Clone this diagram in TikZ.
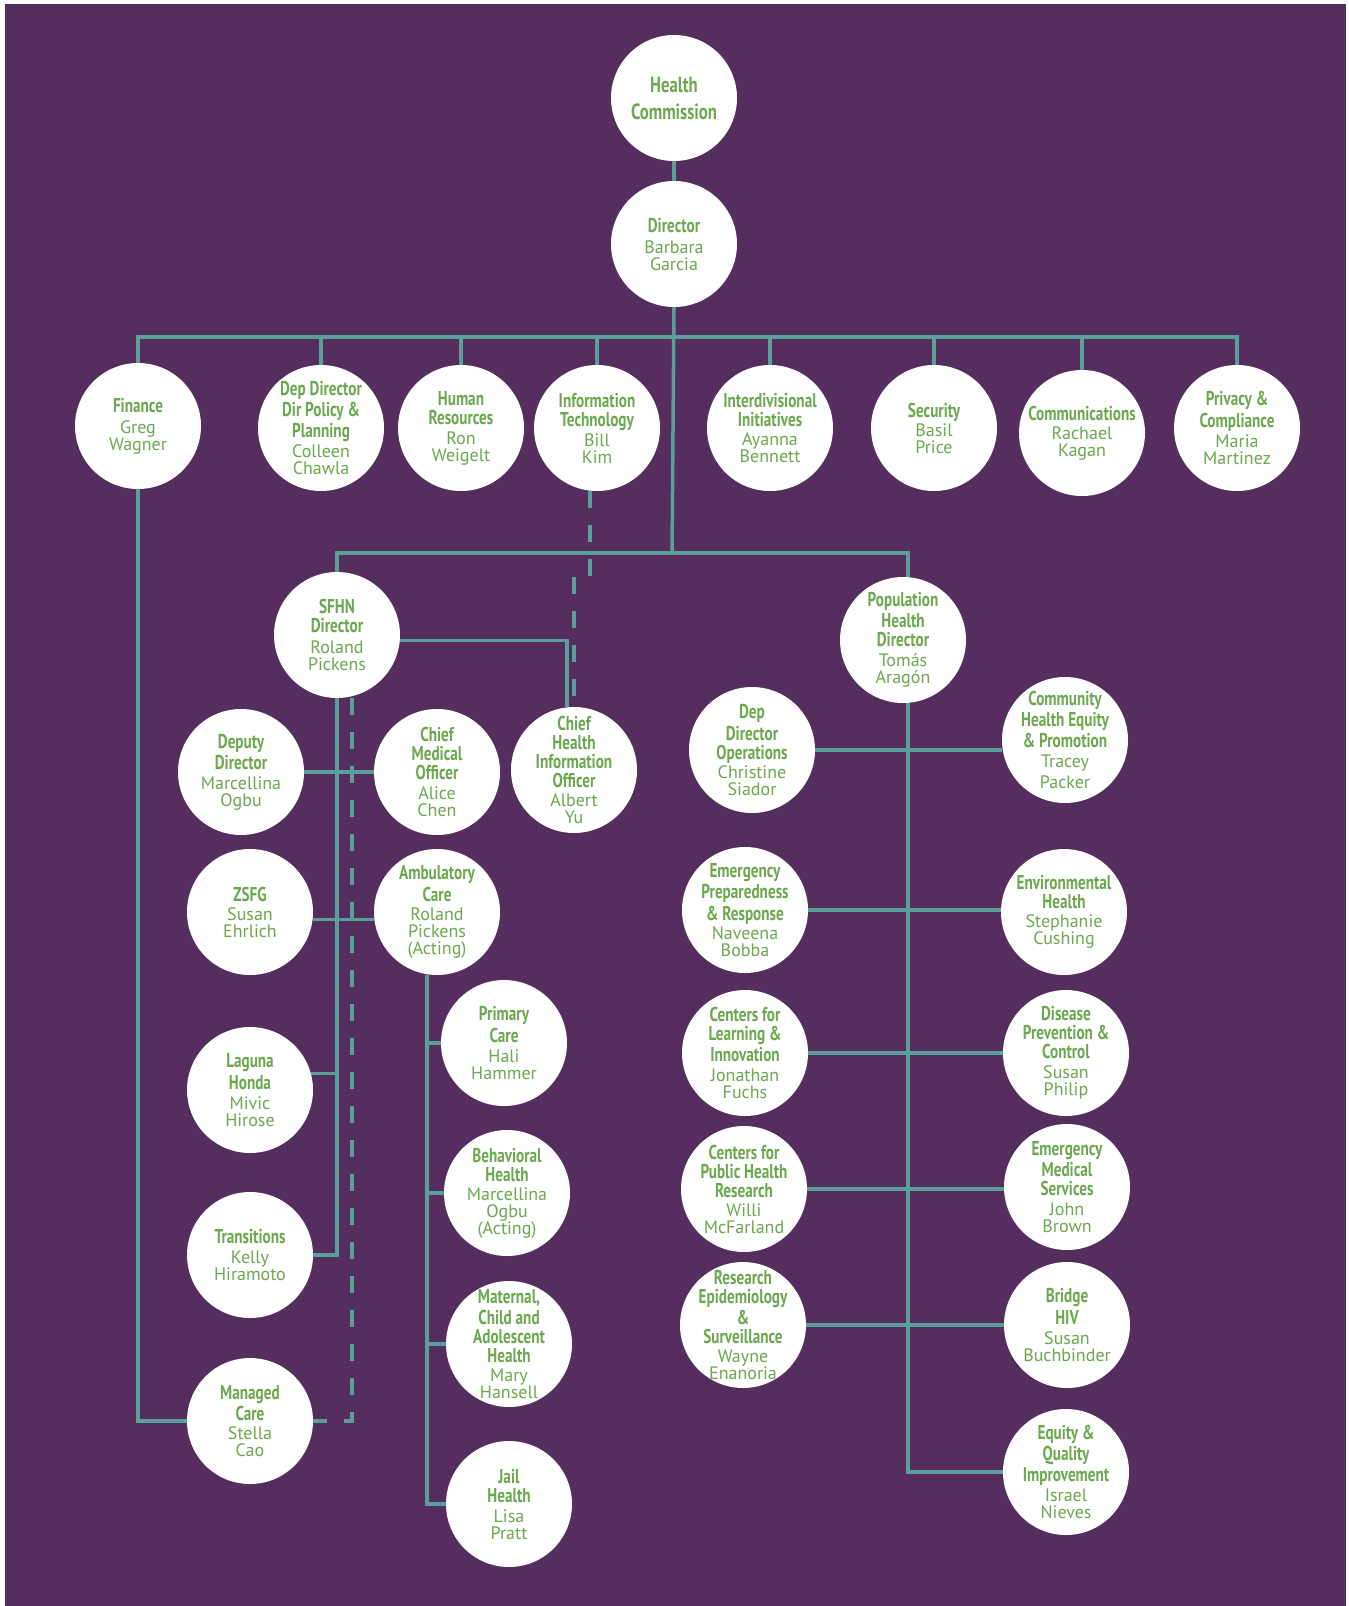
\documentclass[tikz,border=0pt]{standalone}
\usepackage{fontspec}
\setmainfont{PT Sans}
\newfontfamily\tfont{PT Sans}[FakeStretch=0.76]
\usepackage{xcolor}
\definecolor{cBg}{HTML}{552D5E}
\definecolor{cLine}{HTML}{5AA098}
\definecolor{cText}{HTML}{6BA84F}
\usepackage{tikz}
\usetikzlibrary{backgrounds}
% title line of a unit (bold, condensed)
\newcommand{\hd}[2][2pt]{{\tfont\bfseries\fontsize{20}{17}\selectfont #2}\\[#1]}
\tikzset{
  % negative inner sep keeps every circle at 126pt, crowded texts included
  node-unit/.style={circle,fill=white,minimum size=126pt,inner sep=-15pt,
    align=center,text=cText,font=\fontsize{18}{17}\selectfont},
  link/.style={draw=cLine,line width=3.5pt},
  link-dashed/.style={link,dash pattern=on 17pt off 17pt},
}

\begin{document}
\begin{tikzpicture}[x=1pt,y=-1pt]
  \useasboundingbox (0,0) rectangle (1349,1606);
  \node[node-unit] (hc) at (674,98) {{\tfont\bfseries\fontsize{22}{17}\selectfont Health}\\[10pt]{\tfont\bfseries\fontsize{22}{17}\selectfont Commission}};
  \node[node-unit] (dir) at (674,244) {\hd[4pt]{Director}Barbara\\Garcia};
  % top row
  \node[node-unit] (fin) at (138,426) {\hd[4pt]{Finance}Greg\\Wagner};
  \node[node-unit] (dpp) at (321,428) {\hd{Dep Director}\hd{Dir Policy \&}\hd{Planning}Colleen\\Chawla};
  \node[node-unit] (hr) at (461,428) {\hd{Human}\hd[3pt]{Resources}Ron\\Weigelt};
  \node[node-unit] (it) at (597,428) {\hd{Information}\hd[3pt]{Technology}Bill\\Kim};
  \node[node-unit] (idi) at (770,428) {\hd{Interdivisional}\hd{Initiatives}Ayanna\\Bennett};
  \node[node-unit] (sec) at (934,428) {\hd{Security}Basil\\Price};
  \node[node-unit] (com) at (1082,433) {\hd{Communications}Rachael\\Kagan};
  \node[node-unit] (prv) at (1237,428) {\hd{Privacy \&}\hd[3pt]{Compliance}Maria\\Martinez};
  % SFHN
  \node[node-unit] (sfhn) at (337,635) {\hd{SFHN}\hd[4pt]{Director}Roland\\Pickens};
  \node[node-unit] (dd) at (241,772) {\hd{Deputy}\hd[3pt]{Director}Marcellina\\Ogbu};
  \node[node-unit] (cmo) at (437,772) {\hd{Chief}\hd{Medical}\hd[3pt]{Officer}Alice\\Chen};
  \node[node-unit] (chio) at (574,770) {\hd{Chief}\hd{Health}\hd{Information}\hd{Officer}Albert\\Yu};
  \node[node-unit] (zsfg) at (250,912) {\hd{ZSFG}Susan\\Ehrlich};
  \node[node-unit] (amb) at (437,912) {\hd{Ambulatory}\hd{Care}Roland\\Pickens\\(Acting)};
  \node[node-unit] (lh) at (250,1090) {\hd{Laguna}\hd[3pt]{Honda}Mivic\\Hirose};
  \node[node-unit] (trans) at (250,1255) {\hd[3pt]{Transitions}Kelly\\Hiramoto};
  \node[node-unit] (mc) at (250,1421) {\hd{Managed}\hd{Care}Stella\\Cao};
  \node[node-unit] (pc) at (504,1043) {\hd{Primary}\hd[3pt]{Care}Hali\\Hammer};
  \node[node-unit] (bh) at (507,1193) {\hd{Behavioral}\hd{Health}Marcellina\\Ogbu\\(Acting)};
  \node[node-unit] (mcah) at (509,1344) {\hd{Maternal,}\hd{Child and}\hd{Adolescent}\hd{Health}Mary\\Hansell};
  \node[node-unit] (jail) at (509,1504) {\hd{Jail}\hd[3pt]{Health}Lisa\\Pratt};
  % population health
  \node[node-unit] (phd) at (903,640) {\hd{Population}\hd{Health}\hd[3pt]{Director}Tom\'as\\Arag\'on};
  \node[node-unit] (ops) at (752,750) {\hd{Dep}\hd{Director}\hd{Operations}Christine\\Siador};
  \node[node-unit] (che) at (1065,740) {\hd{Community}\hd{Health Equity}\hd[3pt]{\& Promotion}Tracey\\[4pt]Packer};
  \node[node-unit] (epr) at (745,910) {\hd{Emergency}\hd{Preparedness}\hd{\& Response}Naveena\\Bobba};
  \node[node-unit] (env) at (1064,912) {\hd{Environmental}\hd{Health}Stephanie\\Cushing};
  \node[node-unit] (cli) at (745,1053) {\hd{Centers for}\hd{Learning \&}\hd[3pt]{Innovation}Jonathan\\Fuchs};
  \node[node-unit] (dpc) at (1066,1053) {\hd{Disease}\hd{Prevention \&}\hd[3pt]{Control}Susan\\Philip};
  \node[node-unit] (cph) at (744,1189) {\hd{Centers for}\hd{Public Health}\hd{Research}Willi\\McFarland};
  \node[node-unit] (ems) at (1067,1187) {\hd{Emergency}\hd{Medical}\hd[3pt]{Services}John\\Brown};
  \node[node-unit] (res) at (743,1325) {\hd{Research}\hd{Epidemiology}\hd{\&}\hd{Surveillance}Wayne\\Enanoria};
  \node[node-unit] (bhiv) at (1067,1325) {\hd{Bridge}\hd[3pt]{HIV}Susan\\Buchbinder};
  \node[node-unit] (eqi) at (1066,1472) {\hd{Equity \&}\hd{Quality}\hd[3pt]{Improvement}Israel\\Nieves};

  \begin{scope}[on background layer]
    \fill[white] (0,0) rectangle (1349,1606);
    \fill[cBg] (5,4) rectangle (1346,1606);
    \coordinate (bar1) at (672,337);
    \coordinate (bar2) at (672,553);
    \coordinate (itbend) at (590,577);
    \coordinate (ambbot) at ([xshift=-10pt]amb.south);
    \coordinate (phbot) at ([xshift=5pt]phd.south);
    \draw[link] (hc) -- (dir);
    \draw[link] (dir.south) -- (bar2);
    \draw[link] (fin.north) |- (bar1) -| (prv.north);
    \foreach \n in {dpp,hr,it,idi,sec,com}
      \draw[link] (\n.north) -- (\n.north |- bar1);
    \draw[link] (sfhn.north) |- (bar2) -| ([xshift=5pt]phd.north);
    \draw[link] (sfhn.-5) -| ([xshift=-7pt]chio.north);
    \draw[link-dashed] (it.south -| itbend) -- (itbend) -| (chio.north);
    % SFHN network
    \draw[link] (sfhn.south) |- (trans.east);
    \draw[link] (lh.15) -- (lh.15 -| sfhn.south);
    \draw[link] (dd.east) -- (cmo.west);
    \draw[link] (zsfg.-7) -- (zsfg.-7 -| amb.west);
    \draw[link-dashed] ([xshift=15pt]sfhn.south) |- (mc.east);
    \draw[link] (fin.south) |- (mc.west);
    \draw[link] (ambbot) |- (jail.west);
    \foreach \n in {pc,bh,mcah}
      \draw[link] (\n.west) -- (\n.west -| ambbot);
    % population health
    \draw[link] (phbot) |- (eqi.west);
    \draw[link] (ops.east) -- (ops.east -| che.west);
    \draw[link] (epr.east) -- (epr.east -| env.west);
    \draw[link] (cli.east) -- (dpc.west);
    \draw[link] (cph.east) -- (cph.east -| ems.west);
    \draw[link] (res.east) -- (res.east -| bhiv.west);
  \end{scope}
\end{tikzpicture}
\end{document}
